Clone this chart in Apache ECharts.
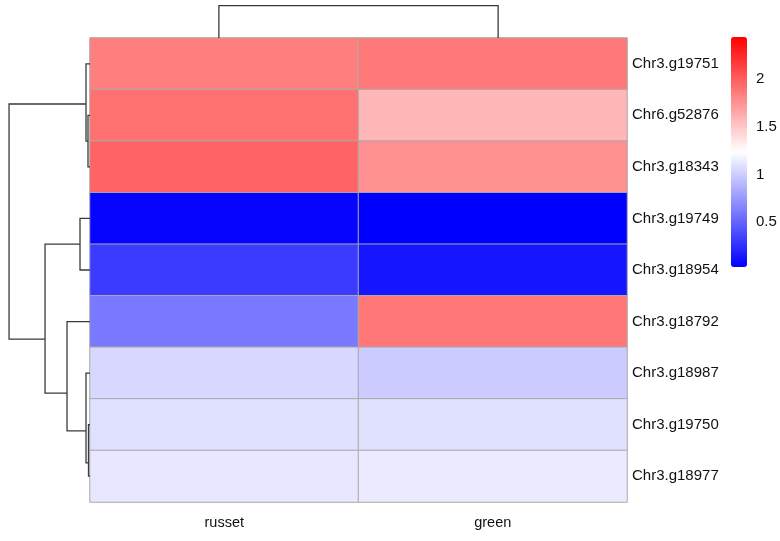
<!DOCTYPE html>
<html>
<head>
<meta charset="utf-8">
<script src="https://cdn.jsdelivr.net/npm/echarts@6/dist/echarts.min.js"></script>
<style>html,body{margin:0;padding:0;background:#fff}#c{width:780px;height:541px}</style>
</head>
<body>
<div id="c"></div>
<script>
// ---- data ----
const columns = ['russet', 'green'];
const genes = ['Chr3.g19751', 'Chr6.g52876', 'Chr3.g18343', 'Chr3.g19749', 'Chr3.g18954',
               'Chr3.g18792', 'Chr3.g18987', 'Chr3.g19750', 'Chr3.g18977'];
const russet = [1.84, 1.91, 1.97, 0.05, 0.31, 0.60, 1.05, 1.09, 1.12];
const green  = [1.87, 1.58, 1.76, 0.03, 0.13, 1.88, 0.99, 1.09, 1.14];
const colorTicks = [0.5, 1, 1.5, 2];
const colorMin = 0.03, colorMax = 2.44;

// row dendrogram: merges (children are leaf indices or merge ids), heights, node positions (row units)
const rowMergeId     = ['A', 'B', 'C', 'F', 'E', 'D', 'G', 'R'];
const rowMergeLeft   = [1, 0, 3, 7, 6, 5, 'C', 'B'];
const rowMergeRight  = [2, 'A', 4, 8, 'F', 'E', 'D', 'G'];
const rowMergeHeight = [2, 4, 10, 1.5, 4, 23, 45, 81];
const rowMergePos    = [2.0, 1.28, 4.0, 8.24, 7.62, 6.89, 5.84, 3.5];

// column dendrogram: leaf positions (column units), merge height
const colLeafPos     = [0.48, 1.52];
const colMergeLeft   = [0];
const colMergeRight  = [1];
const colMergeHeight = [32];

// ---- build ----
const heatData = [];
columns.forEach((c, ci) => {
  const vals = ci === 0 ? russet : green;
  genes.forEach((g, gi) => heatData.push([ci, gi, vals[gi]]));
});

function rowNode(k) {
  if (typeof k === 'number') return { h: 0, p: k + 0.5 };
  const i = rowMergeId.indexOf(k);
  return { h: rowMergeHeight[i], p: rowMergePos[i] };
}
const rowLines = rowMergeId.map((id, i) => {
  const a = rowNode(rowMergeLeft[i]), b = rowNode(rowMergeRight[i]), h = rowMergeHeight[i];
  return { coords: [[a.h, a.p], [h, a.p], [h, b.p], [b.h, b.p]] };
});
const colLines = colMergeLeft.map((l, i) => {
  const r = colMergeRight[i], h = colMergeHeight[i];
  const pl = colLeafPos[l], pr = colLeafPos[r];
  return { coords: [[pl, 0], [pl, h], [pr, h], [pr, 0]] };
});
const rowHMax = Math.max(...rowMergeHeight) * 1.05;
const colHMax = Math.max(...colMergeHeight) * 1.05;

const font = 'Arial, "Liberation Sans", sans-serif';
const hidden = { show: false };
const lineStyle = { color: '#3a3a3a', width: 1.3, opacity: 1 };

const chart = echarts.init(document.getElementById('c'), null, { renderer: 'canvas' });
chart.setOption({
  animation: false,
  backgroundColor: '#ffffff',
  grid: [
    { left: 90, top: 38, width: 537, height: 464 },   // heatmap
    { left: 5, top: 38, width: 85, height: 464 },     // row dendrogram
    { left: 90, top: 4, width: 537, height: 34 },     // column dendrogram
    { left: 731, top: 37, width: 16, height: 230 }    // colour bar labels
  ],
  xAxis: [
    { type: 'category', gridIndex: 0, data: columns, position: 'bottom',
      axisLine: hidden, axisTick: hidden, splitLine: hidden,
      axisLabel: { color: '#111', fontSize: 14.5, fontFamily: font, margin: 13 } },
    { type: 'value', gridIndex: 1, min: 0, max: rowHMax, inverse: true, show: false },
    { type: 'value', gridIndex: 2, min: 0, max: columns.length, show: false },
    { type: 'value', gridIndex: 3, min: 0, max: 1, show: false }
  ],
  yAxis: [
    { type: 'category', gridIndex: 0, data: genes, inverse: true, position: 'right',
      axisLine: hidden, axisTick: hidden, splitLine: hidden,
      axisLabel: { color: '#111', fontSize: 15, fontFamily: font, margin: 5 } },
    { type: 'value', gridIndex: 1, min: 0, max: genes.length, inverse: true, show: false },
    { type: 'value', gridIndex: 2, min: 0, max: colHMax, show: false },
    { type: 'value', gridIndex: 3, min: colorMin, max: colorMax, position: 'right',
      axisLine: hidden, axisTick: hidden, splitLine: hidden,
      axisLabel: { color: '#111', fontSize: 15, fontFamily: font, margin: 9,
                   customValues: colorTicks } }
  ],
  visualMap: {
    type: 'continuous', min: colorMin, max: colorMax, seriesIndex: 0,
    left: 731, top: 37, itemWidth: 16, itemHeight: 230, padding: 0,
    calculable: false, realtime: false, hoverLink: false,
    inRange: { color: ['#0000ff', '#ffffff', '#ff0000'] },
    text: null, showLabel: false
  },
  series: [
    { type: 'heatmap', xAxisIndex: 0, yAxisIndex: 0, data: heatData,
      itemStyle: { borderColor: '#a9a9a9', borderWidth: 1 },
      emphasis: { disabled: true }, label: { show: false } },
    { type: 'lines', coordinateSystem: 'cartesian2d', xAxisIndex: 1, yAxisIndex: 1,
      polyline: true, data: rowLines, lineStyle: lineStyle, silent: true },
    { type: 'lines', coordinateSystem: 'cartesian2d', xAxisIndex: 2, yAxisIndex: 2,
      polyline: true, data: colLines, lineStyle: lineStyle, silent: true }
  ]
});
</script>
</body>
</html>
